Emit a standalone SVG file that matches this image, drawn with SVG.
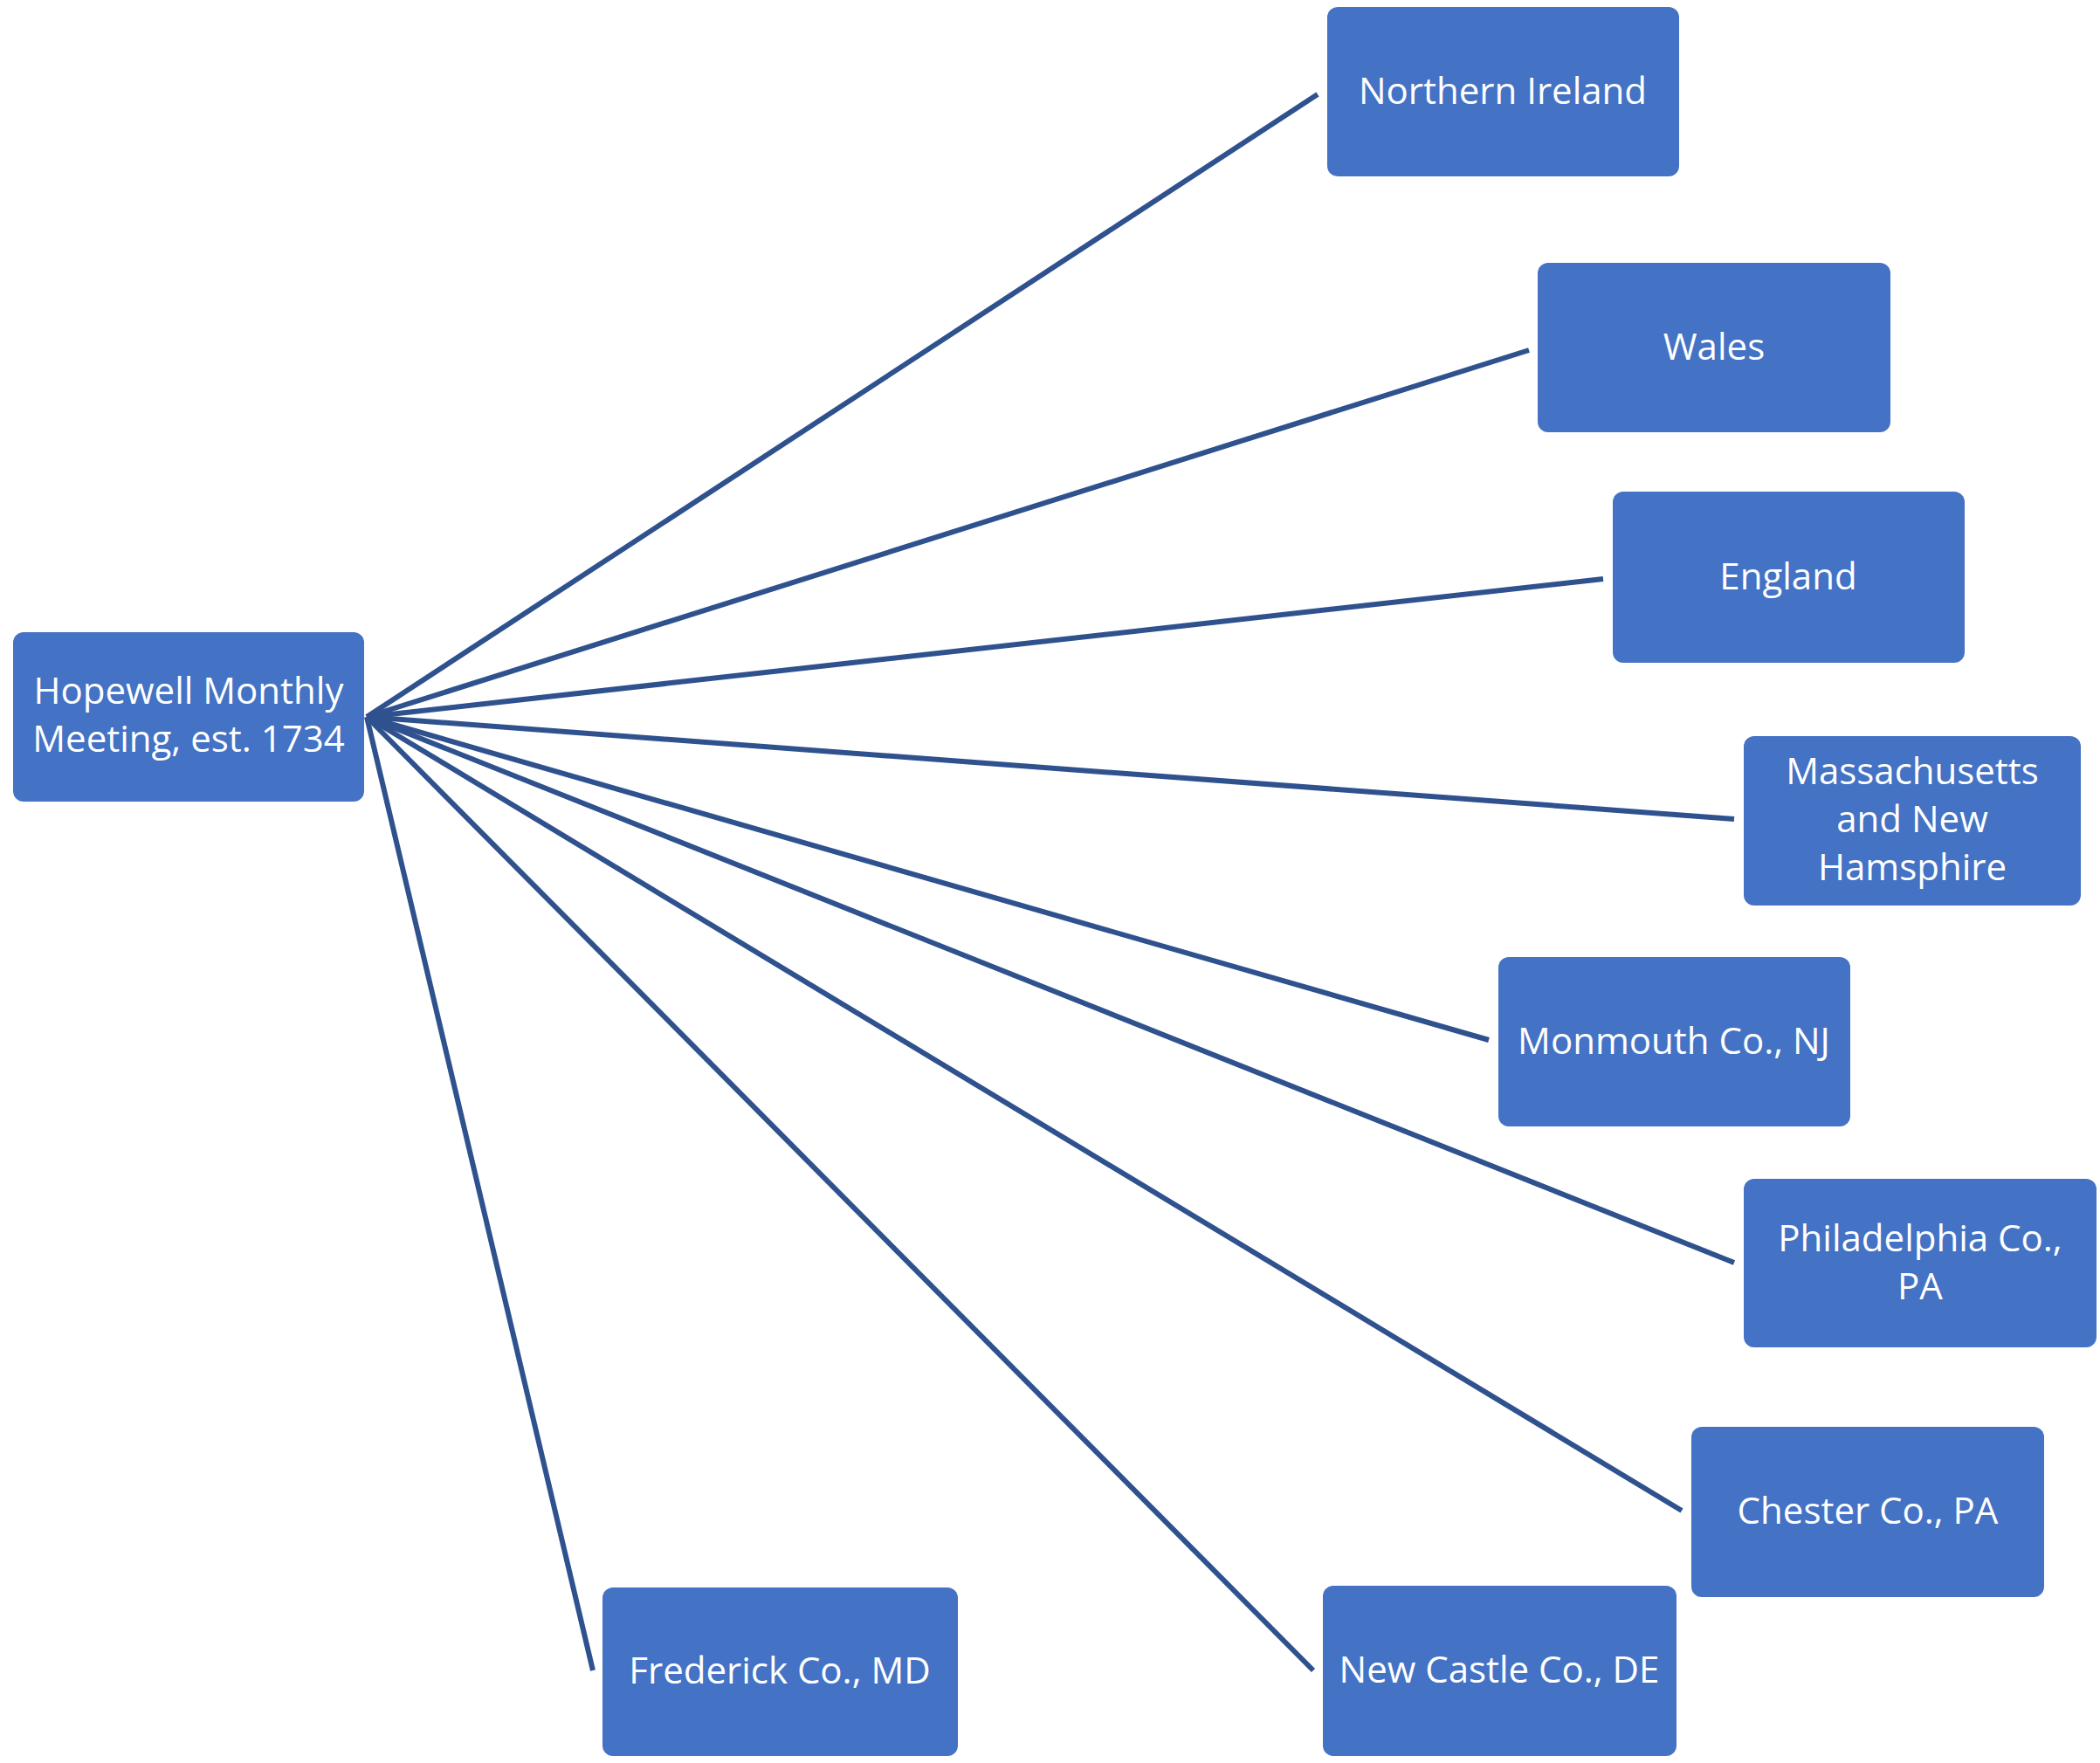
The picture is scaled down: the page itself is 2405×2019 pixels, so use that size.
<svg xmlns="http://www.w3.org/2000/svg" width="2405" height="2019" viewBox="0 0 2405 2019">
<style>
.n{fill:#4472C4;}
.t{fill:#fff;font-family:"Open Sans","Liberation Sans",sans-serif;font-size:42px;text-anchor:middle;}
.c line{stroke:#2F528F;stroke-width:6;}
</style>
<rect width="2405" height="2019" fill="#fff"/>
<g class="c" id="connectors">
<line x1="420" y1="821" x2="1509" y2="108"/>
<line x1="420" y1="821" x2="1751" y2="401"/>
<line x1="420" y1="821" x2="1836" y2="663"/>
<line x1="420" y1="821" x2="1986" y2="938"/>
<line x1="420" y1="821" x2="1705" y2="1191"/>
<line x1="420" y1="821" x2="1986" y2="1446"/>
<line x1="420" y1="821" x2="1926" y2="1730"/>
<line x1="420" y1="821" x2="1504" y2="1913"/>
<line x1="420" y1="821" x2="679" y2="1913"/>
</g>
<g id="hopewell"><rect class="n" x="15" y="724" width="402" height="194" rx="12"/><text class="t" x="216" y="806">Hopewell Monthly</text><text class="t" x="216" y="861">Meeting, est. 1734</text></g>
<g id="ni"><rect class="n" x="1520" y="8" width="403" height="194" rx="12"/><text class="t" x="1721" y="119">Northern Ireland</text></g>
<g id="wales"><rect class="n" x="1761" y="301" width="404" height="194" rx="12"/><text class="t" x="1963" y="412">Wales</text></g>
<g id="england"><rect class="n" x="1847" y="563" width="403" height="196" rx="12"/><text class="t" x="2048" y="675">England</text></g>
<g id="mass"><rect class="n" x="1997" y="843" width="386" height="194" rx="12"/><text class="t" x="2190" y="898">Massachusetts</text><text class="t" x="2190" y="953">and New</text><text class="t" x="2190" y="1008">Hamsphire</text></g>
<g id="monmouth"><rect class="n" x="1716" y="1096" width="403" height="194" rx="12"/><text class="t" x="1917" y="1207">Monmouth Co., NJ</text></g>
<g id="phila"><rect class="n" x="1997" y="1350" width="404" height="193" rx="12"/><text class="t" x="2199" y="1433">Philadelphia Co.,</text><text class="t" x="2199" y="1488">PA</text></g>
<g id="chester"><rect class="n" x="1937" y="1634" width="404" height="195" rx="12"/><text class="t" x="2139" y="1745">Chester Co., PA</text></g>
<g id="newcastle"><rect class="n" x="1515" y="1816" width="405" height="195" rx="12"/><text class="t" x="1717" y="1927">New Castle Co., DE</text></g>
<g id="frederick"><rect class="n" x="690" y="1818" width="407" height="193" rx="12"/><text class="t" x="893" y="1928">Frederick Co., MD</text></g>
</svg>
